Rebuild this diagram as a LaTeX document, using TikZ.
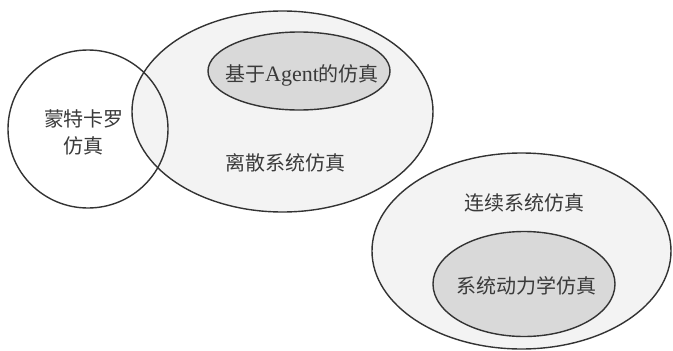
\documentclass[tikz,border=0pt]{standalone}
\usepackage{fontspec}
\setmainfont{Liberation Serif}
\newfontfamily\cjk{Noto Sans CJK SC}
\definecolor{linec}{HTML}{333333}
\definecolor{txtc}{HTML}{3A3A3A}
\definecolor{innerfill}{HTML}{D9D9D9}
\definecolor{outerfill}{HTML}{F3F3F3}
\begin{document}
\begin{tikzpicture}[x=1pt,y=-1pt,
  outline/.style={draw=linec,line width=1.4pt},
  lbl/.style={text=txtc,font=\fontsize{20}{24}\selectfont\cjk,align=center,inner sep=0pt}]
\useasboundingbox (0,0) rectangle (673,351);
\fill[white] (0,0) rectangle (673,351);
% continuous system
\fill[outerfill] (521.5,251) ellipse [x radius=149.5,y radius=98];
\draw[outline] (521.5,251) ellipse [x radius=149.5,y radius=98];
\fill[innerfill] (524,284) ellipse [x radius=91,y radius=52.5];
\draw[outline] (524,284) ellipse [x radius=91,y radius=52.5];
% discrete system
\fill[outerfill] (282.5,111.5) ellipse [x radius=150.5,y radius=100.5];
\fill[innerfill] (299,71) ellipse [x radius=91,y radius=39];
\draw[outline] (299,71) ellipse [x radius=91,y radius=39];
\draw[outline] (282.5,111.5) ellipse [x radius=150.5,y radius=100.5];
% Monte Carlo
\draw[outline] (88,129) ellipse [x radius=80,y radius=79];
% labels
\node[lbl] (mc) at (84,132) {蒙特卡罗\\[3pt]仿真};
\node[lbl] (agent) at (302,75) {基于{\rmfamily\fontsize{22}{24}\selectfont Agent}的仿真};
\node[lbl] (disc) at (285,163) {离散系统仿真};
\node[lbl] (cont) at (524,203) {连续系统仿真};
\node[lbl] (sd) at (526,286) {系统动力学仿真};
\end{tikzpicture}
\end{document}
